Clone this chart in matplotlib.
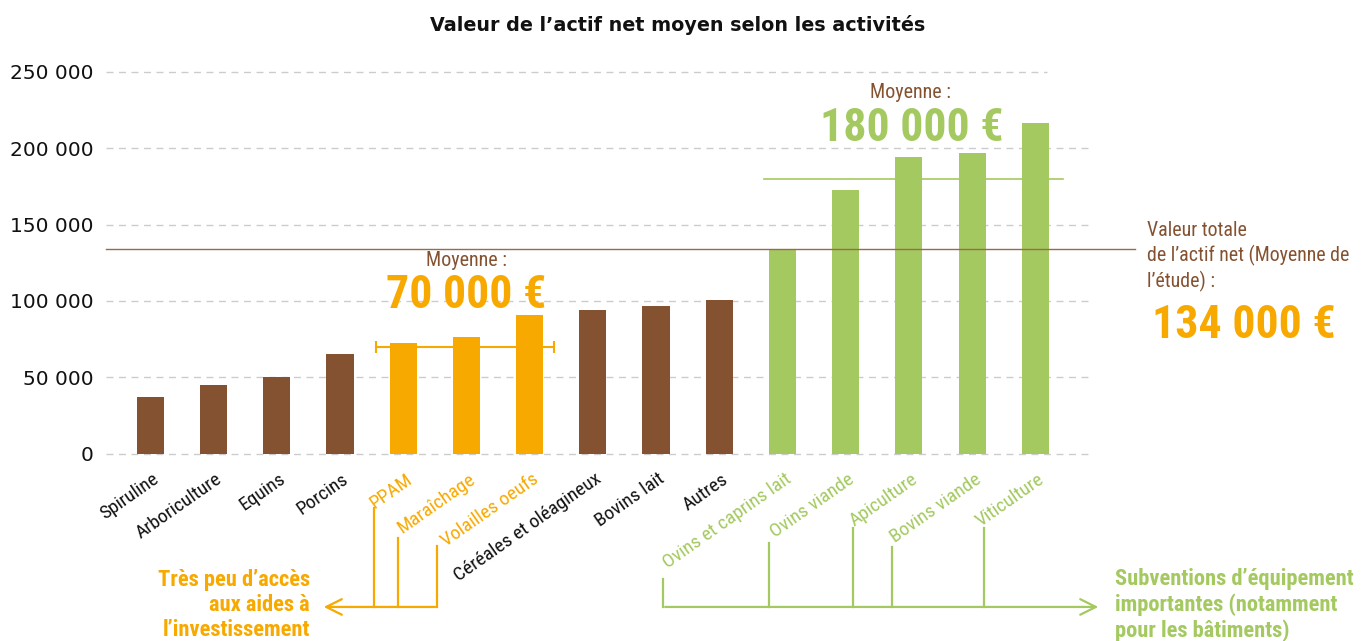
import matplotlib.pyplot as plt
from matplotlib.transforms import ScaledTranslation

# --- Data ---
activites = ["Spiruline", "Arboriculture", "Equins", "Porcins", "PPAM", "Maraîchage",
             "Volailles oeufs", "Céréales et oléagineux", "Bovins lait", "Autres",
             "Ovins et caprins lait", "Ovins viande", "Apiculture", "Bovins viande",
             "Viticulture"]
actif_net = [37000, 45000, 50000, 65000, 72500, 76500, 91000, 94000, 96500, 100500,
             133500, 172500, 194500, 197000, 216500]
groupe = ["autre"] * 4 + ["peu_aides"] * 3 + ["autre"] * 3 + ["subventions"] * 5

moyenne_etude = 134000
moyenne_peu_aides = 70000
moyenne_subventions = 180000
yticks = [0, 50000, 100000, 150000, 200000, 250000]

# --- Style ---
brown = "#855231"
orange = "#F8A900"
green = "#A4C960"
bar_colors = {"autre": brown, "peu_aides": orange, "subventions": green}
label_colors = {"autre": "#111111", "peu_aides": orange, "subventions": green}
narrow = ["Roboto Condensed", "DejaVu Sans"]

fig = plt.figure(figsize=(13.63, 6.41), dpi=100)
ax = fig.add_axes([0.0778, 0.2922, 0.7226, 0.5959])

x = list(range(len(activites)))
ax.bar(x, actif_net, width=0.43, color=[bar_colors[g] for g in groupe], zorder=2)

ax.set_xlim(-0.70, 14.88)
ax.set_ylim(0, 250000)
ax.set_yticks(yticks)
ax.set_yticklabels([f"{v:,}".replace(",", " ") for v in yticks],
                   family=["DejaVu Sans"], fontsize=14.5, color="#111111")
ax.tick_params(axis="both", length=0)
ax.tick_params(axis="y", pad=9)
for s in ax.spines.values():
    s.set_visible(False)

# dashed grid, the top line stops before the right edge as in the source
for v in yticks:
    x_end = 14.19 if v == max(yticks) else 14.88
    ax.hlines(v, -0.70, x_end, color="#CCCCCC", linestyle=(0, (5, 4)), lw=1,
              zorder=0, clip_on=False)

ax.set_xticks(x)
ax.set_xticklabels(activites, rotation=35, ha="right", va="center",
                   rotation_mode="anchor", family=narrow, fontsize=14)
ax.tick_params(axis="x", pad=17)
shift = ScaledTranslation(7 / 100, 0, fig.dpi_scale_trans)
for lab, g in zip(ax.get_xticklabels(), groupe):
    lab.set_color(label_colors[g])
    lab.set_transform(lab.get_transform() + shift)

# --- Mean lines ---
ax.plot([-0.70, 15.58], [moyenne_etude] * 2, color="#9B6A48", lw=1, clip_on=False, zorder=3)
ax.plot([3.57, 6.38], [moyenne_peu_aides] * 2, color=orange, lw=1.5, marker="|",
        ms=8, mew=1.5, zorder=3)
ax.plot([9.71, 14.44], [moyenne_subventions] * 2, color=green, lw=1.2, zorder=3)

ax.text(5.0, 126700, "Moyenne :", ha="center", va="center", color=brown,
        family=narrow, fontsize=14.5)
ax.text(5.0, 103900, "70 000 €", ha="center", va="center", color=orange,
        family=narrow, fontsize=33, fontweight="bold")
ax.text(12.02, 236700, "Moyenne :", ha="center", va="center", color=brown,
        family=narrow, fontsize=14.5)
ax.text(12.05, 213200, "180 000 €", ha="center", va="center", color=green,
        family=narrow, fontsize=33, fontweight="bold")

ax.text(15.77, 129000, "Valeur totale\nde l’actif net (Moyenne de\nl’étude) :",
        ha="left", va="center", color=brown, family=narrow, fontsize=14.3,
        linespacing=1.3, clip_on=False)
ax.text(15.84, 84200, "134 000 €", ha="left", va="center", color=orange,
        family=narrow, fontsize=33, fontweight="bold", clip_on=False)

# --- Bracket annotations below the axis ---
y_base = -100300
for xv, top in [(3.54, -35500), (3.92, -55200), (4.54, -60400)]:
    ax.plot([xv, xv], [top, y_base], color=orange, lw=1.6, clip_on=False)
ax.annotate("", xy=(2.70, y_base), xytext=(4.54 + 0.01, y_base),
            arrowprops=dict(arrowstyle="->", color=orange, lw=1.6, mutation_scale=28),
            annotation_clip=False)
ax.text(2.525, -99000, "Très peu d’accès\naux aides à\nl’investissement", ha="right",
        va="center", color=orange, family=narrow, fontsize=16.2, fontweight="bold",
        linespacing=1.2, clip_on=False)

for xv, top in [(8.11, -82100), (9.79, -58500), (11.12, -48600), (11.74, -61100),
                (13.19, -48600)]:
    ax.plot([xv, xv], [top, y_base], color=green, lw=1.6, clip_on=False)
ax.annotate("", xy=(15.04, y_base), xytext=(8.11 - 0.01, y_base),
            arrowprops=dict(arrowstyle="->", color=green, lw=1.6, mutation_scale=28),
            annotation_clip=False)
ax.text(15.26, -99000, "Subventions d’équipement\nimportantes (notamment\npour les bâtiments)",
        ha="left", va="center", color=green, family=narrow, fontsize=16.2,
        fontweight="bold", linespacing=1.2, clip_on=False)

fig.text(0.497, 0.961, "Valeur de l’actif net moyen selon les activités", ha="center",
         va="center", fontsize=13.8, fontweight="bold", color="#111111")

fig.savefig("out.png", dpi=100)
